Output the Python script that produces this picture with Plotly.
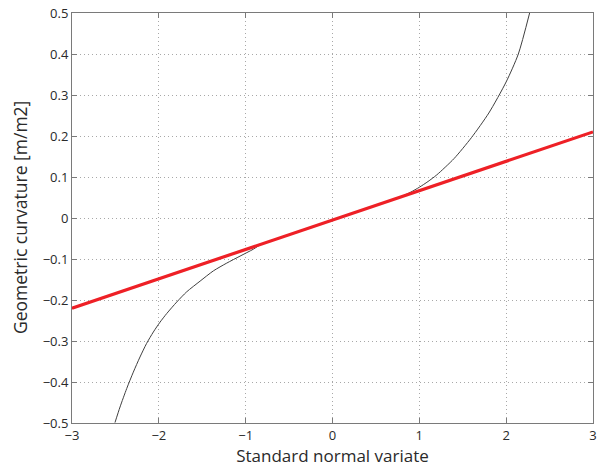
import plotly.graph_objects as go

# Empirical curvature vs. standard normal variate (thin dark curve)
variate = [-2.505, -2.447, -2.370, -2.294, -2.217, -2.141, -2.063, -1.986,
           -1.909, -1.794, -1.679, -1.525, -1.372, -1.218, -1.065, -0.911,
           -0.82, -0.5, 0.0, 0.5, 0.78, 0.9, 1.0, 1.1, 1.2, 1.4, 1.6, 1.8,
           2.0, 2.14, 2.27]
curvature = [-0.499, -0.461, -0.416, -0.376, -0.339, -0.306, -0.278, -0.254,
             -0.233, -0.205, -0.180, -0.154, -0.129, -0.110, -0.093, -0.076,
             -0.064, -0.041, -0.005, 0.031, 0.051, 0.063, 0.075, 0.089, 0.105,
             0.145, 0.196, 0.256, 0.332, 0.400, 0.500]

# Fitted straight line (thick red)
fit_x = [-3, 3]
fit_y = [-0.22, 0.21]

x_ticks = [-3, -2, -1, 0, 1, 2, 3]
y_ticks = [-0.5, -0.4, -0.3, -0.2, -0.1, 0, 0.1, 0.2, 0.3, 0.4, 0.5]

FONT = "Open Sans, Liberation Sans, sans-serif"
TEXT = "#2a2a2a"

fig = go.Figure()
fig.add_trace(go.Scatter(
    x=variate, y=curvature, mode="lines",
    line=dict(color="#404040", width=1.0, shape="spline", smoothing=0.7),
    hoverinfo="skip", showlegend=False,
))
fig.add_trace(go.Scatter(
    x=fit_x, y=fit_y, mode="lines",
    line=dict(color="#ee2026", width=3.2),
    hoverinfo="skip", showlegend=False,
))

axis_common = dict(
    showline=True, linecolor="#7a7a7a", linewidth=1, mirror="ticks",
    ticks="inside", ticklen=5, tickcolor="#7a7a7a", tickwidth=1,
    showgrid=True, gridcolor="#a8a8a8", griddash="1px,3px", gridwidth=1,
    zeroline=False, automargin=False,
    tickfont=dict(family=FONT, size=13, color=TEXT),
)

fig.update_xaxes(
    range=[-3, 3], tickvals=x_ticks,
    title=dict(text="Standard normal variate", standoff=4,
               font=dict(family=FONT, size=17, color=TEXT)),
    **axis_common,
)
fig.update_yaxes(range=[-0.5, 0.5], tickvals=y_ticks, **axis_common)

# Vertical axis title placed as an annotation left of the tick labels
fig.add_annotation(
    text="Geometric curvature [m/m2]", textangle=-90,
    xref="paper", yref="paper", x=0, y=0.5,
    xanchor="center", yanchor="middle", xshift=-52, showarrow=False,
    font=dict(family=FONT, size=17.5, color=TEXT),
)

fig.update_layout(
    width=599, height=469,
    margin=dict(l=72, r=6, t=13, b=46),
    paper_bgcolor="white", plot_bgcolor="white",
)

fig.write_html("out.html")
